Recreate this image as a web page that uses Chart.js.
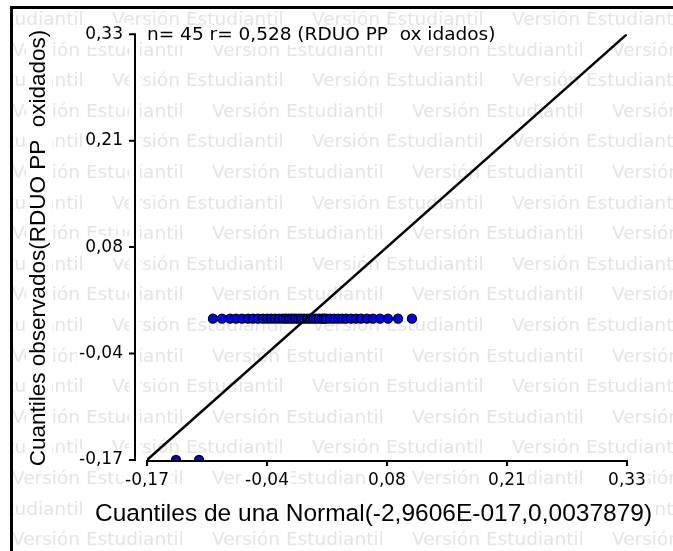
<!DOCTYPE html>
<html lang="es">
<head>
<meta charset="utf-8">
<title>Q-Q plot RDUO PP oxidados</title>
<script src="https://cdn.jsdelivr.net/npm/chart.js@4.4.1/dist/chart.umd.min.js"></script>
<style>
  html, body { margin: 0; padding: 0; background: #fff; }
  #wrap { width: 673px; height: 551px; }
</style>
</head>
<body>
<div id="wrap"><canvas id="qq" width="673" height="551"></canvas></div>
<script>
// cuantiles teóricos (eje x) y observados (eje y)
const normalQuantiles = [
    -0.1398, -0.1158, -0.1013, -0.0919, -0.0835, -0.0773, -0.0710, -0.0648, -0.0596,
    -0.0544, -0.0492, -0.0450, -0.0408, -0.0367, -0.0325, -0.0283, -0.0252, -0.0221,
    -0.0190, -0.0158, -0.0127, -0.0096, -0.0065, -0.0033, -0.0002, 0.0029, 0.0060,
    0.0092, 0.0123, 0.0144, 0.0165, 0.0206, 0.0248, 0.0290, 0.0331, 0.0373,
    0.0425, 0.0477, 0.0529, 0.0592, 0.0654, 0.0727, 0.0810, 0.0915, 0.1060
];
const observedQuantiles = [
    -0.17, -0.17, -0.004, -0.004, -0.004, -0.004, -0.004, -0.004, -0.004,
    -0.004, -0.004, -0.004, -0.004, -0.004, -0.004, -0.004, -0.004, -0.004,
    -0.004, -0.004, -0.004, -0.004, -0.004, -0.004, -0.004, -0.004, -0.004,
    -0.004, -0.004, -0.004, -0.004, -0.004, -0.004, -0.004, -0.004, -0.004,
    -0.004, -0.004, -0.004, -0.004, -0.004, -0.004, -0.004, -0.004, -0.004
];

// recta de referencia y = x
const refLineX = [-0.17, 0.33];
const refLineY = [-0.17, 0.33];

const xTickValues = [-0.17, -0.045, 0.08, 0.205, 0.33];
const xTickLabels = ['-0,17', '-0,04', '0,08', '0,21', '0,33'];
const yTickValues = [-0.17, -0.045, 0.08, 0.205, 0.33];
const yTickLabels = ['-0,17', '-0,04', '0,08', '0,21', '0,33'];

const xTitle = 'Cuantiles de una Normal(-2,9606E-017,0,0037879)';
const yTitle = 'Cuantiles observados(RDUO PP  oxidados)';
const infoText = 'n= 45 r= 0,528 (RDUO PP  ox idados)';
const watermark = 'Versión Estudiantil';

const points = normalQuantiles.map((x, i) => ({ x: x, y: observedQuantiles[i] }));
const refLine = refLineX.map((x, i) => ({ x: x, y: refLineY[i] }));

// fondo, marca de agua, ejes desplazados y textos con caja blanca
const infostatDecor = {
    id: 'infostatDecor',
    beforeDraw(chart) {
        const ctx = chart.ctx;
        ctx.save();
        ctx.fillStyle = '#fff';
        ctx.fillRect(0, 0, chart.width, chart.height);

        ctx.beginPath();
        ctx.rect(13, 9, chart.width, chart.height);
        ctx.clip();
        ctx.font = '18.5px "DejaVu Sans"';
        ctx.fillStyle = '#e4e4e4';
        ctx.textBaseline = 'alphabetic';
        ctx.textAlign = 'left';
        for (let k = 0; k < 18; k++) {
            const y = 25 + 30.6 * k;
            for (let x = (k % 2 ? 12 : 112) - 200; x < chart.width; x += 200) {
                ctx.fillText(watermark, x, y);
            }
        }
        ctx.restore();

        // marco exterior
        ctx.save();
        ctx.fillStyle = '#000';
        ctx.fillRect(10, 6, 3, chart.height);
        ctx.fillRect(10, 6, chart.width, 3);
        ctx.restore();
    },
    beforeDatasetsDraw(chart) {
        const ctx = chart.ctx;
        const xs = chart.scales.x;
        const ys = chart.scales.y;
        const area = chart.chartArea;
        const axisX = 135;
        const axisY = area.bottom + 1;

        ctx.save();
        // franja blanca junto al eje y
        ctx.fillStyle = '#fff';
        ctx.fillRect(129, area.top - 3, 11, area.bottom - area.top + 6);

        ctx.strokeStyle = '#000';
        ctx.lineWidth = 2;
        ctx.beginPath();
        ctx.moveTo(axisX, ys.getPixelForValue(yTickValues[yTickValues.length - 1]) - 1);
        ctx.lineTo(axisX, ys.getPixelForValue(yTickValues[0]) + 1);
        yTickValues.forEach(v => {
            const py = ys.getPixelForValue(v);
            ctx.moveTo(axisX + 1, py);
            ctx.lineTo(axisX - 6, py);
        });
        ctx.moveTo(xs.getPixelForValue(xTickValues[0]) - 1, axisY);
        ctx.lineTo(xs.getPixelForValue(xTickValues[xTickValues.length - 1]) + 1, axisY);
        xTickValues.forEach(v => {
            const px = xs.getPixelForValue(v);
            ctx.moveTo(px, axisY - 1);
            ctx.lineTo(px, axisY + 5);
        });
        ctx.stroke();

        // título eje x
        ctx.font = '24.5px "Liberation Sans", Arial, sans-serif';
        ctx.textBaseline = 'middle';
        ctx.textAlign = 'left';
        let w = ctx.measureText(xTitle).width;
        ctx.fillStyle = '#fff';
        ctx.fillRect(93, 501, w + 4, 26);
        ctx.fillStyle = '#000';
        ctx.fillText(xTitle, 95, 514);

        // título eje y
        ctx.save();
        ctx.translate(39, 248);
        ctx.rotate(-Math.PI / 2);
        ctx.font = '22.5px "Liberation Sans", Arial, sans-serif';
        ctx.textAlign = 'center';
        w = ctx.measureText(yTitle).width;
        ctx.fillStyle = '#fff';
        ctx.fillRect(-w / 2 - 2, -13, w + 4, 26);
        ctx.fillStyle = '#000';
        ctx.fillText(yTitle, 0, 0);
        ctx.restore();

        // leyenda n / r
        ctx.font = '18.5px "DejaVu Sans"';
        ctx.textBaseline = 'alphabetic';
        ctx.textAlign = 'left';
        w = ctx.measureText(infoText).width;
        ctx.fillStyle = '#fff';
        ctx.fillRect(144, 26, w + 6, 19);
        ctx.fillStyle = '#000';
        ctx.fillText(infoText, 147, 40);
        ctx.restore();
    }
};

const tickFont = { family: 'DejaVu Sans', size: 17 };

new Chart(document.getElementById('qq').getContext('2d'), {
    type: 'scatter',
    data: {
        datasets: [{
            label: 'y = x',
            data: refLine,
            showLine: true,
            borderColor: '#000',
            borderWidth: 2.5,
            pointRadius: 0,
            order: 0
        }, {
            label: 'RDUO PP oxidados',
            data: points,
            backgroundColor: '#0000ff',
            borderColor: '#000',
            borderWidth: 1.3,
            pointRadius: 4.5,
            order: 1
        }]
    },
    options: {
        responsive: false,
        animation: false,
        layout: { padding: { left: 0, top: 33, right: 46, bottom: 0 } },
        plugins: {
            legend: { display: false },
            tooltip: { enabled: false }
        },
        scales: {
            x: {
                type: 'linear',
                min: -0.17,
                max: 0.33,
                afterBuildTicks: scale => { scale.ticks = xTickValues.map(v => ({ value: v })); },
                afterFit: scale => { scale.height = 91; },
                grid: { display: false, drawTicks: false },
                border: { display: false },
                ticks: {
                    autoSkip: false,
                    maxRotation: 0,
                    padding: 10,
                    color: '#000',
                    font: tickFont,
                    showLabelBackdrop: true,
                    backdropColor: '#fff',
                    backdropPadding: 2,
                    callback: (v, i) => xTickLabels[i]
                }
            },
            y: {
                type: 'linear',
                min: -0.17,
                max: 0.33,
                afterBuildTicks: scale => { scale.ticks = yTickValues.map(v => ({ value: v })); },
                afterFit: scale => { scale.width = 147; },
                grid: { display: false, drawTicks: false },
                border: { display: false },
                ticks: {
                    autoSkip: false,
                    padding: 24,
                    color: '#000',
                    font: tickFont,
                    showLabelBackdrop: true,
                    backdropColor: '#fff',
                    backdropPadding: { left: 2, right: 7, top: 1, bottom: 1 },
                    callback: (v, i) => yTickLabels[i]
                }
            }
        }
    },
    plugins: [infostatDecor]
});
</script>
</body>
</html>
